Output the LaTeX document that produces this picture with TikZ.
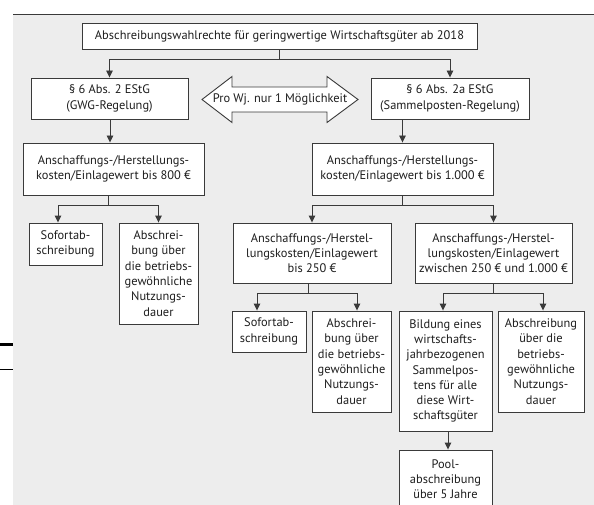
\documentclass[tikz,border=0pt]{standalone}
\usepackage{fontspec}
\setmainfont{PT Sans}
\usetikzlibrary{arrows.meta}
\definecolor{bg}{HTML}{EDEDED}
\definecolor{ln}{HTML}{3A3A3A}
\definecolor{tx}{HTML}{1E1E1E}
\tikzset{
  bx/.style n args={2}{draw=ln, fill=white, line width=0.9pt, inner sep=0pt,
    align=center, minimum width=#1, minimum height=#2, text=tx,
    font=\fontsize{12.4}{15.3}\selectfont},
  con/.style={draw=ln, line width=0.9pt, -{Triangle[length=7pt,width=6.5pt]}},
}
\begin{document}
\begin{tikzpicture}[x=1pt,y=-1pt]
\useasboundingbox (0,0) rectangle (594,505);
\fill[bg] (13,15) rectangle (594,505);
\draw[ln, line width=1pt] (13,14.5) -- (594,14.5);
\draw[black, line width=3pt] (0,344) -- (13,344);
\draw[black, line width=1pt] (0,369) -- (13,369);

\node[bx={395pt}{26pt}] (title) at (279.5,36) {Abschreibungswahlrechte für geringwertige Wirtschaftsgüter ab 2018};
\node[bx={157pt}{41pt}] (gwg) at (109.5,98.5) {§ 6 Abs. 2 EStG\\(GWG-Regelung)};
\node[bx={158pt}{41pt}] (sam) at (450,98.5) {§ 6 Abs. 2a EStG\\(Sammelposten-Regelung)};

\draw[ln, line width=0.9pt, fill=white] (202,99.5) -- (232,76.5) -- (232,87) -- (327,87) -- (327,76.5) -- (358,99.5) -- (327,122.5) -- (327,112) -- (232,112) -- (232,122.5) -- cycle;
\node[text=tx, inner sep=0pt, font=\fontsize{12.4}{15.3}\selectfont] (wj) at (280,99.5) {Pro Wj. nur 1 Möglichkeit};

\node[bx={181pt}{52pt}] (k800) at (113.5,169) {Anschaffungs-/Herstellungs-\\kosten/Einlagewert bis 800 €};
\node[bx={181pt}{52pt}] (k1000) at (402.5,169) {Anschaffungs-/Herstellungs-\\kosten/Einlagewert bis 1.000 €};

\node[bx={73pt}{42pt}] (sof1) at (65.5,244) {Sofortab-\\schreibung};
\node[bx={79pt}{101pt}] (abs1) at (158.5,273.5) {Abschrei-\\bung über\\die betriebs-\\gewöhnliche\\Nutzungs-\\dauer};
\node[bx={158pt}{60pt}] (k250) at (312,253) {Anschaffungs-/Herstel-\\lungskosten/Einlagewert\\bis 250 €};
\node[bx={157pt}{60pt}] (kzw) at (493.5,253) {Anschaffungs-/Herstel-\\lungskosten/Einlagewert\\zwischen 250 € und 1.000 €};

\node[bx={74pt}{41pt}] (sof2) at (269,331.5) {Sofortab-\\schreibung};
\node[bx={79pt}{101pt}] (abs2) at (351.5,361.5) {Abschrei-\\bung über\\die betriebs-\\gewöhnliche\\Nutzungs-\\dauer};
\node[bx={93pt}{120pt}] (bild) at (445.5,371) {Bildung eines\\wirtschafts-\\jahrbezogenen\\Sammelpos-\\tens für alle\\diese Wirt-\\schaftsgüter};
\node[bx={86pt}{101pt}] (abs3) at (541,361.5) {Abschreibung\\über die\\betriebs-\\gewöhnliche\\Nutzungs-\\dauer};
\node[bx={93pt}{58pt}] (pool) at (445.5,479) {Pool-\\abschreibung\\über 5 Jahre};

% connectors
\draw[ln, line width=0.9pt] (title.south) -- ++(0,10) coordinate (t1);
\draw[con] (t1) -| (gwg.north);
\draw[con] (t1) -| (sam.north);
\draw[con] (gwg.south -| k800.north) ++(-3.5,0) -- ([xshift=-3.5pt]k800.north);
\draw[con] (k1000.north |- sam.south) -- (k1000.north);

\draw[ln, line width=0.9pt] ([xshift=-5pt]k800.south) -- ++(0,10) coordinate (b1);
\draw[con] (b1) -| ([xshift=-7.5pt]sof1.north);
\draw[con] (b1) -| (abs1.north);

\draw[ln, line width=0.9pt] (k1000.south) -- ++(0,10) coordinate (b2);
\draw[con] (b2) -| (k250.north);
\draw[con] (b2) -| (kzw.north);

\draw[ln, line width=0.9pt] ([xshift=-4pt]k250.south) -- ++(0,10) coordinate (b3);
\draw[con] (b3) -| ([xshift=-12pt]sof2.north);
\draw[con] (b3) -| ([xshift=5.5pt]abs2.north);

\draw[ln, line width=0.9pt] (kzw.south) -- ++(0,10) coordinate (b4);
\draw[con] (b4) -| ([xshift=-2.5pt]bild.north);
\draw[con] (b4) -| ([xshift=2pt]abs3.north);

\draw[con] ([xshift=2.5pt]bild.south) -- ([xshift=2.5pt]pool.north);
\end{tikzpicture}
\end{document}
